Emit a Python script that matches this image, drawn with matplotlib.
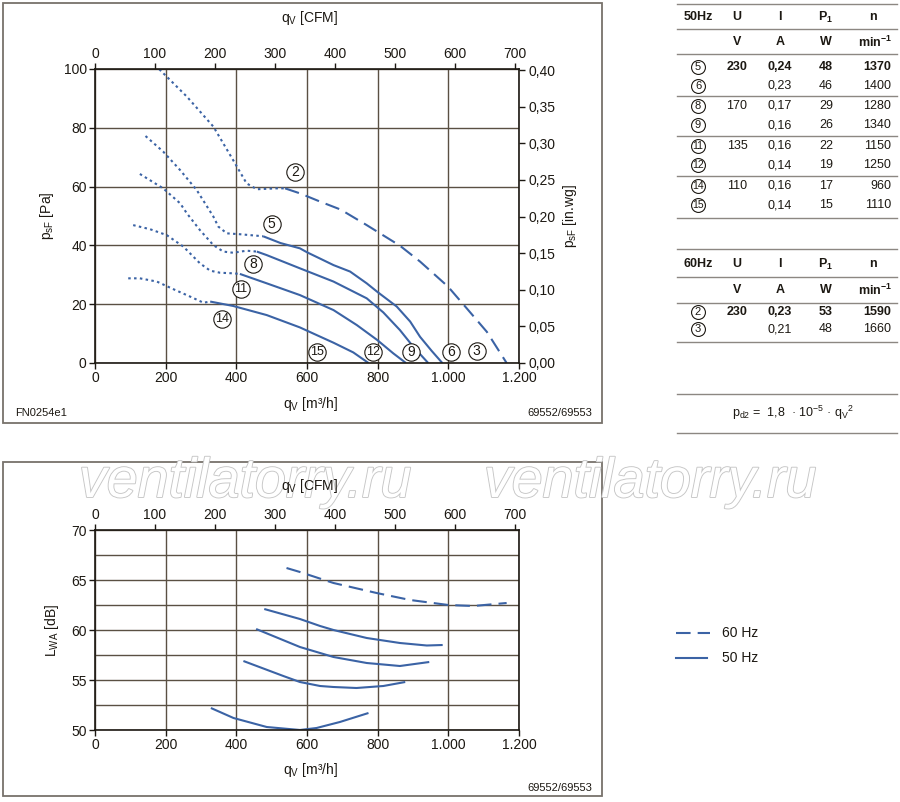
import matplotlib
matplotlib.use("Agg")
import matplotlib.pyplot as plt
import matplotlib.patheffects as pe
from matplotlib.lines import Line2D
from matplotlib.patches import Rectangle
from matplotlib.ticker import FuncFormatter, MultipleLocator

W, H = 900, 802
BLUE = "#3b63a5"
GRID = "#5a5043"
INK = "#1c1812"
FRAME = "#77726b"
RULE = "#8c8782"

plt.rcParams["font.family"] = ["Liberation Sans", "DejaVu Sans"]
plt.rcParams["mathtext.fontset"] = "custom"
plt.rcParams["mathtext.rm"] = "Liberation Sans"
plt.rcParams["mathtext.it"] = "Liberation Sans:italic"
plt.rcParams["mathtext.bf"] = "Liberation Sans:bold"
plt.rcParams["mathtext.default"] = "regular"

M3H_PER_CFM = 1.699
PA_PER_INWG = 249.09

# pressure curves: q [m3/h], p [Pa]; *_dot = unstable (dotted) part
c2_dot_q = [182, 203, 260, 335, 391, 429, 458, 514, 538]
c2_dot_p = [99.9, 97.4, 90.6, 80.4, 69.0, 61.1, 59.1, 59.4, 59.4]
c2_q = [538, 580, 637, 695, 769, 863, 920, 999, 1052, 1109, 1165]
c2_p = [59.4, 57.7, 54.9, 52.2, 46.9, 39.9, 34.5, 26.0, 18.6, 10.6, 0.0]

c5_dot_q = [143, 193, 241, 288, 335, 349, 373, 410, 467, 476]
c5_dot_p = [77.2, 71.9, 65.6, 58.8, 49.8, 46.4, 44.1, 43.8, 43.2, 43.1]
c5_q = [476, 525, 580, 601, 639, 675, 722, 769, 799, 854, 892, 920, 953, 983]
c5_p = [43.1, 40.8, 39.0, 37.6, 35.4, 33.3, 31.1, 27.1, 24.2, 19.2, 14.1, 8.9, 4.1, 0.0]

c8_dot_q = [127, 193, 241, 260, 297, 335, 363, 391, 429, 458]
c8_dot_p = [64.3, 59.4, 54.3, 50.9, 45.2, 40.1, 37.9, 37.5, 38.2, 37.9]
c8_q = [458, 486, 580, 675, 769, 816, 863, 901, 943]
c8_p = [37.9, 36.7, 32.2, 27.7, 22.0, 17.2, 11.2, 5.5, 0.0]

c11_dot_q = [108, 156, 203, 250, 297, 326, 354, 391, 410]
c11_dot_p = [46.9, 45.5, 43.5, 39.6, 33.9, 31.4, 30.7, 30.5, 30.3]
c11_q = [410, 486, 580, 675, 741, 799, 844, 880]
c11_p = [30.3, 27.1, 23.1, 18.0, 12.9, 7.8, 3.3, 0.0]

c14_dot_q = [94, 127, 175, 222, 269, 307, 326]
c14_dot_p = [28.8, 28.8, 27.7, 25.1, 22.6, 20.5, 20.9]
c14_q = [326, 391, 486, 580, 620, 675, 731, 774]
c14_p = [20.9, 19.4, 16.3, 12.1, 9.9, 6.9, 3.6, 0.0]

p_label_ids = ["2", "5", "8", "11", "14", "15", "12", "9", "6", "3"]
p_label_q = [566, 500, 448, 412, 359, 627, 786, 894, 1007, 1080]
p_label_p = [65.1, 47.2, 33.7, 25.1, 14.9, 3.8, 3.8, 3.8, 3.8, 4.2]

# sound power level curves: q [m3/h], L_WA [dB]
l60_q = [542, 580, 675, 797, 892, 1000, 1071, 1165]
l60_L = [66.2, 65.8, 64.7, 63.7, 63.0, 62.5, 62.4, 62.7]
l50a_q = [479, 580, 637, 675, 769, 863, 939, 984]
l50a_L = [62.1, 61.1, 60.4, 60.0, 59.2, 58.7, 58.45, 58.5]
l50b_q = [456, 580, 637, 675, 769, 863, 946]
l50b_L = [60.1, 58.3, 57.7, 57.3, 56.7, 56.4, 56.8]
l50c_q = [420, 533, 580, 637, 675, 740, 816, 878]
l50c_L = [56.9, 55.4, 54.8, 54.4, 54.3, 54.2, 54.4, 54.8]
l50d_q = [328, 392, 486, 580, 627, 693, 774]
l50d_L = [52.2, 51.2, 50.3, 50.0, 50.2, 50.8, 51.7]

# tables
t50_ids = ["5", "6", "8", "9", "11", "12", "14", "15"]
t50_U = ["230", "", "170", "", "135", "", "110", ""]
t50_I = ["0,24", "0,23", "0,17", "0,16", "0,16", "0,14", "0,16", "0,14"]
t50_P = ["48", "46", "29", "26", "22", "19", "17", "15"]
t50_n = ["1370", "1400", "1280", "1340", "1150", "1250", "960", "1110"]
t60_ids = ["2", "3"]
t60_U = ["230", ""]
t60_I = ["0,23", "0,21"]
t60_P = ["53", "48"]
t60_n = ["1590", "1660"]


def fx(x):
    return x / W


def fy(y):
    return 1 - y / H


fig = plt.figure(figsize=(W / 100, H / 100), dpi=100)


def ftext(x, y, s, **kw):
    kw.setdefault("color", INK)
    return fig.text(fx(x), fy(y), s, **kw)


def fline(x0, y0, x1, y1, **kw):
    fig.add_artist(Line2D([fx(x0), fx(x1)], [fy(y0), fy(y1)], transform=fig.transFigure, **kw))


def fcircle(x, y, s, ms=10, fs=8.5):
    fig.add_artist(Line2D([fx(x)], [fy(y)], transform=fig.transFigure, marker="o", ms=ms,
                          mfc="white", mec=INK, mew=0.8, ls="none"))
    ftext(x, y, s, ha="center", va="center", fontsize=fs)


def frame(x0, y0, x1, y1):
    fig.add_artist(Rectangle((fx(x0), fy(y1)), fx(x1) - fx(x0), fy(y0) - fy(y1),
                             transform=fig.transFigure, fill=False, ec=FRAME, lw=1.3))


def thousands(v, pos):
    return f"{int(round(v)):,}".replace(",", ".")


def comma2(v, pos):
    return f"{v:.2f}".replace(".", ",")


def style_axes(ax):
    for s in ax.spines.values():
        s.set_color(INK)
        s.set_linewidth(1.2)
    ax.tick_params(which="major", direction="out", length=4, width=1, color=INK,
                   labelsize=10, pad=2, labelcolor=INK)
    ax.tick_params(which="minor", length=0)
    ax.grid(True, which="both", color=GRID, lw=1.0)
    ax.set_axisbelow(True)
    ax.set_xlim(0, 1200)
    ax.xaxis.set_major_locator(MultipleLocator(200))
    ax.xaxis.set_major_formatter(FuncFormatter(thousands))
    top = ax.secondary_xaxis("top", functions=(lambda q: q / M3H_PER_CFM,
                                               lambda c: c * M3H_PER_CFM))
    top.xaxis.set_major_locator(MultipleLocator(100))
    top.tick_params(direction="out", length=4, width=1, color=INK, labelsize=10,
                    pad=2, labelcolor=INK)
    top.spines["top"].set_visible(False)
    return top


# ---------------- pressure chart ----------------
frame(3, 3, 602, 423)
ax1 = fig.add_axes([fx(95), fy(363), fx(519) - fx(95), fy(69) - fy(363)])
style_axes(ax1)
ax1.set_ylim(0, 100)
ax1.yaxis.set_major_locator(MultipleLocator(20))

right = ax1.secondary_yaxis("right", functions=(lambda p: p / PA_PER_INWG,
                                                lambda w: w * PA_PER_INWG))
right.yaxis.set_major_locator(MultipleLocator(0.05))
right.yaxis.set_major_formatter(FuncFormatter(comma2))
right.tick_params(direction="out", length=4, width=1, color=INK, labelsize=10,
                  pad=3, labelcolor=INK)
right.spines["right"].set_visible(False)

dot = (0, (1.2, 1.6))
dash = (0, (7, 3.4))
lw = 1.5
for dq, dp in [(c2_dot_q, c2_dot_p), (c5_dot_q, c5_dot_p), (c8_dot_q, c8_dot_p),
               (c11_dot_q, c11_dot_p), (c14_dot_q, c14_dot_p)]:
    ax1.plot(dq, dp, color=BLUE, lw=lw, ls=dot)
ax1.plot(c2_q, c2_p, color=BLUE, lw=lw, ls=dash)
for q, p in [(c5_q, c5_p), (c8_q, c8_p), (c11_q, c11_p), (c14_q, c14_p)]:
    ax1.plot(q, p, color=BLUE, lw=lw, solid_capstyle="butt")

ax1.plot(p_label_q, p_label_p, "o", ms=12.5, mfc="white", mec=INK, mew=0.8, zorder=5)
for s, q, p in zip(p_label_ids, p_label_q, p_label_p):
    ax1.text(q, p, s, ha="center", va="center", fontsize=10 if len(s) == 1 else 9,
             color=INK, zorder=6)

ftext(310, 18, "q$_V$ [CFM]", ha="center", va="center", fontsize=10)
ftext(47, 216, "p$_{sF}$ [Pa]", ha="center", va="center", rotation=90, fontsize=10)
ftext(570, 216, "p$_{sF}$ [in.wg]", ha="center", va="center", rotation=90, fontsize=10)
ftext(310, 404, "q$_V$ [m³/h]", ha="center", va="center", fontsize=10)
ftext(15, 413, "FN0254e1", ha="left", va="center", fontsize=8)
ftext(592, 413, "69552/69553", ha="right", va="center", fontsize=8)

# ---------------- sound power chart ----------------
frame(3, 462, 602, 796)
ax2 = fig.add_axes([fx(95), fy(730), fx(519) - fx(95), fy(530) - fy(730)])
style_axes(ax2)
ax2.set_ylim(50, 70)
ax2.yaxis.set_major_locator(MultipleLocator(5))
ax2.yaxis.set_minor_locator(MultipleLocator(2.5))
ax2.plot(l60_q, l60_L, color=BLUE, lw=lw, ls=dash)
for q, L in [(l50a_q, l50a_L), (l50b_q, l50b_L), (l50c_q, l50c_L), (l50d_q, l50d_L)]:
    ax2.plot(q, L, color=BLUE, lw=lw, solid_capstyle="butt")

# watermark (outlined, behind the axis title)
for cx in (245, 650):
    ftext(cx, 497, "ventilatorry.ru", ha="center", va="baseline", fontsize=40,
          style="italic", color="white", zorder=2,
          path_effects=[pe.withStroke(linewidth=1.3, foreground="#c6c6c6")])

ftext(310, 486, "q$_V$ [CFM]", ha="center", va="center", fontsize=10, zorder=4)
ftext(52, 630, "L$_{WA}$ [dB]", ha="center", va="center", rotation=90, fontsize=10)
ftext(310, 770, "q$_V$ [m³/h]", ha="center", va="center", fontsize=10)
ftext(592, 788, "69552/69553", ha="right", va="center", fontsize=8)

# legend
fline(676, 633, 710, 633, color=BLUE, lw=lw, ls=dash)
fline(676, 658, 707, 658, color=BLUE, lw=lw)
ftext(722, 633, "60 Hz", ha="left", va="center", fontsize=10)
ftext(722, 658, "50 Hz", ha="left", va="center", fontsize=10)

# ---------------- tables ----------------
COL_ID, COL_U, COL_I, COL_P, COL_N = 698, 737, 780, 826, 891
TX0, TX1 = 677, 897


def table_head(y_head, y_unit, label):
    ftext(COL_ID, y_head, label, ha="center", va="center", fontsize=9, weight="bold")
    ftext(COL_U, y_head, "U", ha="center", va="center", fontsize=9, weight="bold")
    ftext(COL_I, y_head, "I", ha="center", va="center", fontsize=9, weight="bold")
    ftext(COL_P, y_head, r"$\mathbf{P_1}$", ha="center", va="center", fontsize=9)
    ftext(COL_N - 18, y_head, "n", ha="center", va="center", fontsize=9, weight="bold")
    ftext(COL_U, y_unit, "V", ha="center", va="center", fontsize=9, weight="bold")
    ftext(COL_I, y_unit, "A", ha="center", va="center", fontsize=9, weight="bold")
    ftext(COL_P, y_unit, "W", ha="center", va="center", fontsize=9, weight="bold")
    ftext(COL_N + 1, y_unit, r"$\mathbf{min^{-1}}$", ha="right", va="center", fontsize=9)


def table_rows(ys, ids, U, I, P, n, bold_first=True):
    for k, y in enumerate(ys):
        wgt = "bold" if (k == 0 and bold_first) else "normal"
        fcircle(COL_ID, y, ids[k], ms=10, fs=8 if len(ids[k]) == 1 else 7.5)
        ftext(COL_U, y, U[k], ha="center", va="center", fontsize=9, weight=wgt)
        ftext(COL_I, y, I[k], ha="center", va="center", fontsize=9, weight=wgt)
        ftext(COL_P, y, P[k], ha="center", va="center", fontsize=9, weight=wgt)
        ftext(COL_N, y, n[k], ha="right", va="center", fontsize=9, weight=wgt)


for y in (4, 29, 54, 96, 136, 176, 218):
    fline(TX0, y, TX1, y, color=RULE, lw=1.0)
table_head(17, 42, "50Hz")
table_rows([67, 86, 106, 125, 146, 165, 186, 205], t50_ids, t50_U, t50_I, t50_P, t50_n)

for y in (249, 277, 303, 342, 394, 433):
    fline(TX0, y, TX1, y, color=RULE, lw=1.0)
table_head(264, 290, "60Hz")
table_rows([312, 329], t60_ids, t60_U, t60_I, t60_P, t60_n)
ftext(793, 413, "p$_{d2}$ =  1,8  · 10$^{-5}$ · q$_V$$^{2}$", ha="center", va="center",
      fontsize=9)

fig.savefig("out.png", dpi=100)
